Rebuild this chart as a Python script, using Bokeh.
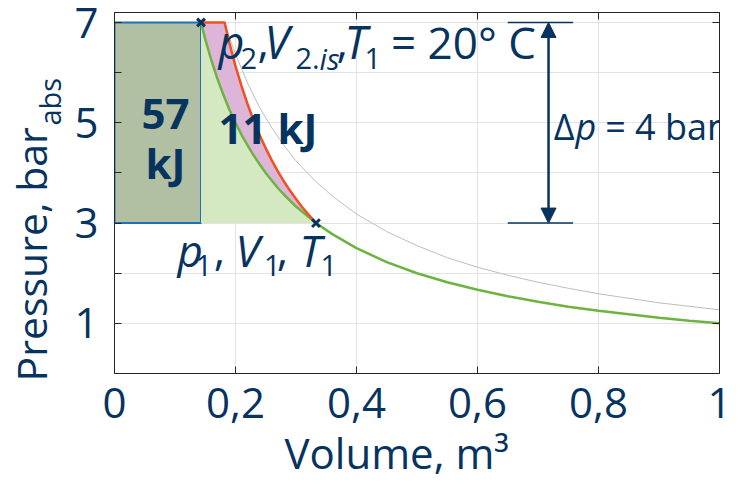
from bokeh.plotting import figure
from bokeh.models import Range1d, FixedTicker, LinearAxis, Label, Arrow, NormalHead, Title
from bokeh.embed import file_html
from bokeh.resources import INLINE

# state points of the compression (volume in m³, pressure in bar abs)
V1, p1 = 0.333, 3.0        # start: p1, V1, T1
V2_is, p2 = 0.143, 7.0     # isothermal end point
V2_ad = 0.182              # adiabatic end point at p2

# isotherm through (V1, p1)
iso_v = [0.143, 0.15, 0.16, 0.17, 0.18, 0.19, 0.20, 0.21, 0.22, 0.23, 0.24, 0.25, 0.26,
         0.27, 0.28, 0.29, 0.30, 0.31, 0.32, 0.333, 0.36, 0.40, 0.45, 0.50, 0.55, 0.60,
         0.65, 0.70, 0.75, 0.80, 0.85, 0.90, 0.95, 1.00]
iso_p = [7.00, 6.67, 6.25, 5.88, 5.56, 5.26, 5.00, 4.76, 4.55, 4.35, 4.17, 4.00, 3.85,
         3.70, 3.57, 3.45, 3.33, 3.23, 3.13, 3.00, 2.78, 2.50, 2.22, 2.00, 1.82, 1.67,
         1.54, 1.43, 1.33, 1.25, 1.18, 1.11, 1.05, 1.00]

# adiabatic compression from (V1, p1) up to p2
adi_v = [0.182, 0.19, 0.20, 0.21, 0.22, 0.23, 0.24, 0.25, 0.26, 0.27, 0.28, 0.29, 0.30,
         0.31, 0.32, 0.333]
adi_p = [7.00, 6.59, 6.13, 5.73, 5.37, 5.04, 4.75, 4.49, 4.25, 4.03, 3.83, 3.65, 3.48,
         3.32, 3.18, 3.00]

# isotherm through the adiabatic end point
hot_v = [0.182, 0.19, 0.20, 0.22, 0.24, 0.26, 0.28, 0.30, 0.33, 0.36, 0.40, 0.45, 0.50,
         0.55, 0.60, 0.65, 0.70, 0.75, 0.80, 0.85, 0.90, 0.95, 1.00]
hot_p = [7.00, 6.70, 6.37, 5.79, 5.30, 4.90, 4.55, 4.24, 3.86, 3.54, 3.18, 2.83, 2.55,
         2.31, 2.12, 1.96, 1.82, 1.70, 1.59, 1.50, 1.41, 1.34, 1.27]

x_ticks = [0, 0.2, 0.4, 0.6, 0.8, 1.0]
x_tick_labels = ["0", "0,2", "0,4", "0,6", "0,8", "1"]
y_ticks = [1, 2, 3, 4, 5, 6, 7]
y_tick_labels = ["1", "", "3", "", "5", "", "7"]

NAVY = "#07335f"
FONT = "Open Sans"
Y_MAX = 7.2
FRAME_H = 361

p = figure(width=752, height=482, output_backend="svg", toolbar_location=None,
           x_range=Range1d(0, 1.0), y_range=Range1d(0, Y_MAX),
           min_border_left=114, min_border_right=33, min_border_top=12,
           min_border_bottom=109)
p.background_fill_color = "white"
p.border_fill_color = "white"
p.outline_line_color = "#262626"

xt = FixedTicker(ticks=x_ticks)
yt = FixedTicker(ticks=y_ticks)
p.xaxis.ticker = xt
p.yaxis.ticker = yt
p.xaxis.major_label_overrides = dict(zip(x_ticks, x_tick_labels))
p.yaxis.major_label_overrides = dict(zip(y_ticks, y_tick_labels))
p.xgrid.ticker = xt
p.ygrid.ticker = yt
p.grid.grid_line_color = "#e3e3e3"
p.grid.grid_line_width = 1

for ax in (p.xaxis[0], p.yaxis[0]):
    ax.major_tick_in = 7
    ax.major_tick_out = 0
    ax.minor_tick_line_color = None
    ax.axis_line_color = "#262626"
    ax.major_tick_line_color = "#262626"
    ax.major_label_text_font = FONT
    ax.major_label_text_font_size = "42px"
    ax.major_label_text_color = NAVY
p.xaxis.major_label_standoff = 14
p.yaxis.major_label_standoff = 16

# mirrored tick marks on top and right
for loc, tk in (("above", xt), ("right", yt)):
    ax = LinearAxis(ticker=tk, major_tick_in=7, major_tick_out=0,
                    minor_tick_line_color=None, major_label_text_font_size="0px",
                    major_label_standoff=0, axis_line_color="#262626",
                    major_tick_line_color="#262626")
    p.add_layout(ax, loc)


def title(side, s, size, offset, standoff):
    p.add_layout(Title(text=s, align="left", vertical_align="bottom", offset=offset,
                       standoff=standoff, text_font=FONT, text_font_size=f"{size}px",
                       text_font_style="normal", text_color=NAVY), side)


# axis titles (pressure with a subscript unit index)
title("below", "Volume, m³", 42, 170, 3)
title("left", "abs", 29, 248, 6)
title("left", "Pressure, bar", 41, -8, -68)

# work areas
p.quad(left=0, right=V2_is, bottom=p1, top=p2, fill_color="#b1bfa3",
       line_color="#1f70b6", line_width=2)

iso_part = [(v, pp) for v, pp in zip(iso_v, iso_p) if v <= V1]
green_x = [V2_is] + [v for v, _ in iso_part]
green_y = [p1] + [pp for _, pp in iso_part]
p.patch(green_x, green_y, fill_color="#d4e8c2", line_color=None)

mag_x = [V2_is] + adi_v + [v for v, _ in reversed(iso_part)]
mag_y = [p2] + adi_p + [pp for _, pp in reversed(iso_part)]
p.patch(mag_x, mag_y, fill_color="#dcb5d8", line_color=None)

# curves
p.line(hot_v, hot_p, line_color="#bdbdbd", line_width=1)
p.line(iso_v, iso_p, line_color="#6db33f", line_width=2.5)
p.line([V2_is] + adi_v, [p2] + adi_p, line_color="#f05023", line_width=2.5)

p.scatter([V2_is, V1], [p2, p1], marker="x", size=11, line_width=3,
          line_color=NAVY)

# pressure difference marker
p.segment(x0=[0.650, 0.650], y0=[p2, p1], x1=[0.758, 0.758], y1=[p2, p1],
          line_color=NAVY, line_width=1.5)
p.add_layout(Arrow(x_start=0.7174, y_start=p1, x_end=0.7174, y_end=p2,
                   line_color=NAVY, line_width=2.5,
                   start=NormalHead(size=15, fill_color=NAVY, line_color=NAVY),
                   end=NormalHead(size=15, fill_color=NAVY, line_color=NAVY)))

# a Label's anchor lands a little below the glyph baseline; lift it by a share
# of the font size so that y is the baseline of the text
LIFT = 0.43


def txt(x, y, s, size=44, style="normal", align="left"):
    y_anchor = y + LIFT * size * Y_MAX / FRAME_H
    p.add_layout(Label(x=x, y=y_anchor, text=s, text_font=FONT,
                       text_font_size=f"{size}px", text_font_style=style,
                       text_color=NAVY, text_align=align, text_baseline="alphabetic"))


SUB = 29
IT = 45
# end state label
txt(0.1719, 6.243, "p", size=IT, style="italic")
txt(0.2083, 6.043, "2", size=SUB)
txt(0.2364, 6.243, ",")
txt(0.2480, 6.243, "V", size=IT, style="italic")
txt(0.2990, 6.043, "2.", size=SUB)
txt(0.3390, 6.043, "is", size=SUB, style="italic")
txt(0.3669, 6.243, ",")
txt(0.3802, 6.243, "T", size=IT, style="italic")
txt(0.4132, 6.043, "1", size=SUB)
txt(0.4570, 6.243, "= 20° C")

# start state label
txt(0.1041, 2.088, "p", style="italic")
txt(0.1339, 1.915, "1", size=SUB)
txt(0.1640, 2.088, ",")
txt(0.2000, 2.088, "V", style="italic")
txt(0.2470, 1.915, "1", size=SUB)
txt(0.2680, 2.088, ",")
txt(0.3058, 2.088, "T", style="italic")
txt(0.3405, 1.915, "1", size=SUB)

# pressure rise
txt(0.7260, 4.613, "Δ", size=36)
txt(0.7620, 4.613, "p", size=36, style="italic")
txt(0.8110, 4.613, "= 4 bar", size=36)

# work values
txt(0.0843, 4.813, "57", size=42, style="bold", align="center")
txt(0.0843, 3.849, "kJ", size=42, style="bold", align="center")
txt(0.1719, 4.547, "11 kJ", size=42, style="bold")

open("out.html", "w").write(file_html(p, INLINE))
